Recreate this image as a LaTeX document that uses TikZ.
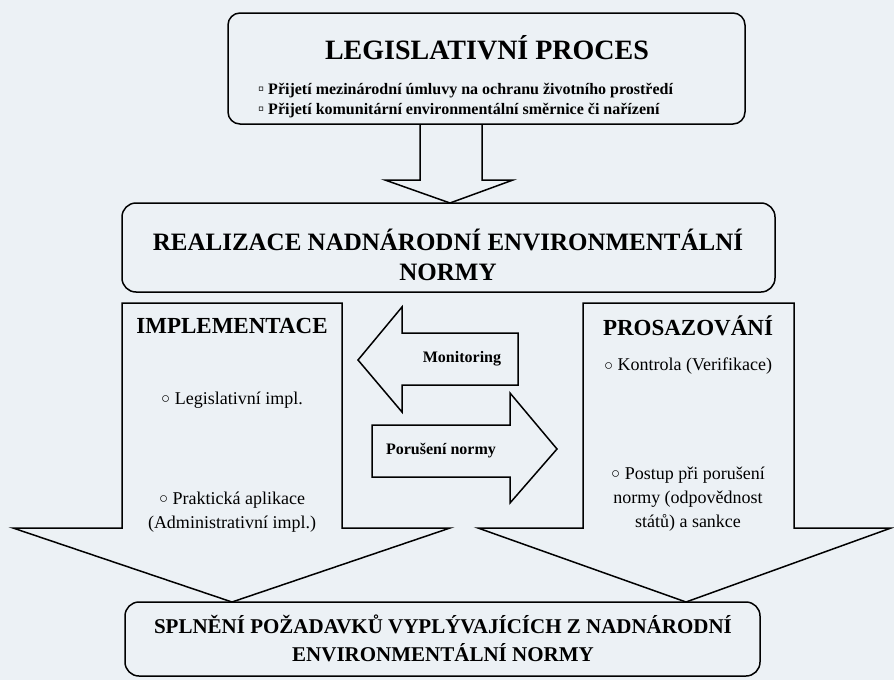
\documentclass[tikz,border=0pt]{standalone}
\usepackage{fontspec}
\setmainfont{Liberation Serif}
\definecolor{bg}{RGB}{236,241,245}
\newcommand{\cbul}{\raisebox{0.02em}{\fontsize{15}{15}\selectfont ○}}
\newcommand{\sbul}{{\fontsize{17}{17}\selectfont ▫}}
\begin{document}
\begin{tikzpicture}[x=1pt,y=-1pt,
  blk/.style={draw=black, line width=1.5pt, line join=miter},
  rbox/.style={draw=black, line width=1.5pt, rounded corners=12pt},
  ttl/.style={font=\fontsize{28}{30}\selectfont\bfseries, align=center, inner sep=0},
  bigt/.style={font=\fontsize{25}{30}\selectfont\bfseries, align=center, inner sep=0},
  subt/.style={font=\fontsize{23}{26}\selectfont\bfseries, align=center, inner sep=0},
  item/.style={font=\fontsize{18}{24}\selectfont, align=center, inner sep=0},
  bul/.style={font=\fontsize{16}{18}\selectfont\bfseries, anchor=west, inner sep=0},
  lab/.style={font=\fontsize{16}{18}\selectfont\bfseries, inner sep=0}]
\fill[bg] (0,0) rectangle (894,680);
\useasboundingbox (0,0) rectangle (894,680);

% top box
\draw[rbox] (228,13) rectangle (745,124);
\node[ttl] (legis) at (487,48) {LEGISLATIVNÍ PROCES};
\node[bul] (b1) at (258,91) {\sbul{} Přijetí mezinárodní úmluvy na ochranu životního prostředí};
\node[bul] (b2) at (258,111) {\sbul{} Přijetí komunitární environmentální směrnice či nařízení};

% down arrow
\draw[blk] (420,124) -- (420,180) -- (385,180) -- (450,203) -- (513,180) -- (482,180) -- (482,124);

% realizace
\draw[rbox, rounded corners=14pt] (122,203) rectangle (775,292);
\node[bigt] (real) at (448,255) {REALIZACE NADNÁRODNÍ ENVIRONMENTÁLNÍ\\NORMY};

% implementace arrow
\draw[blk] (122,303) -- (342,303) -- (342,528) -- (450,528) -- (232,602) -- (13,528) -- (122,528) -- cycle;
\node[subt] (impl) at (232,326) {IMPLEMENTACE};
\node[item] (i1) at (232,400) {\cbul{} Legislativní impl.};
\node[item] (i2) at (232,512) {\cbul{} Praktická aplikace\\(Administrativní impl.)};

% prosazovani arrow
\draw[blk] (583,303) -- (794,303) -- (794,528) -- (891,528) -- (686,602) -- (478,528) -- (583,528) -- cycle;
\node[subt] (pros) at (688,326) {PROSAZOVÁNÍ};
\node[item] (p1) at (688,366) {\cbul{} Kontrola (Verifikace)};
\node[item] (p2) at (688,499) {\cbul{} Postup při porušení\\normy (odpovědnost\\států) a sankce};

% monitoring arrow
\draw[blk] (518,333) -- (402,333) -- (402,307) -- (358,360) -- (402,412) -- (402,385) -- (518,385) -- cycle;
\node[lab] (mon) at (462,359) {Monitoring};

% poruseni arrow
\draw[blk] (372,425) -- (510,425) -- (510,393) -- (557,449) -- (510,503) -- (510,477) -- (372,477) -- cycle;
\node[lab] (por) at (441,451) {Porušení normy};

% splneni
\draw[rbox, rounded corners=14pt] (125,602) rectangle (760,676);
\node[bigt, font=\fontsize{21}{28}\selectfont\bfseries] (spl) at (443,638) {SPLNĚNÍ POŽADAVKŮ VYPLÝVAJÍCÍCH Z NADNÁRODNÍ\\ENVIRONMENTÁLNÍ NORMY};
\end{tikzpicture}
\end{document}
